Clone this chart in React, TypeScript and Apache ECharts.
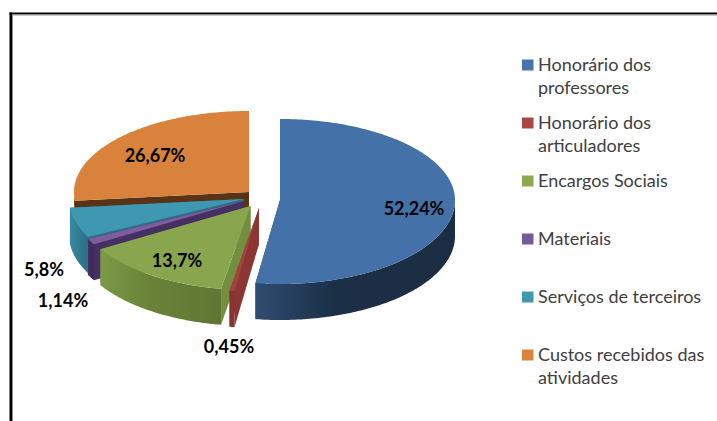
import React, { useEffect, useRef } from "react";
import * as echarts from "echarts";

const categories = [
  "Honorário dos\nprofessores",
  "Honorário dos\narticuladores",
  "Encargos Sociais",
  "Materiais",
  "Serviços de terceiros",
  "Custos recebidos das\natividades",
];
const values = [52.24, 0.45, 13.7, 1.14, 5.8, 26.67];
const valueLabels = ["52,24%", "0,45%", "13,7%", "1,14%", "5,8%", "26,67%"];

const topColors = ["#4472A8", "#A5423F", "#89A54E", "#7D5D9E", "#3F98B2", "#D9823B"];
const legendColors = ["#4674AB", "#AA4643", "#8DA84F", "#775A99", "#4198AF", "#DB843D"];
const edgeColors = ["#2A4568", "#8C3633", "#748E40", "#462F63", "#2C6F85", "#5A3216"];
const wallStops = [
  ["#2F4D70", "#1B2F47", "#1B2D42"],
  ["#7E2F2C", "#8A3431", "#8A3431"],
  ["#7C9A46", "#6A8238", "#5F7733"],
  ["#4A3166", "#402B59", "#402B59"],
  ["#3A8AA2", "#337E94", "#2B6E84"],
  ["#7A4A20", "#7A4A20", "#7A4A20"],
];

// Screen layout of each exploded slice: apex and label centre
const apexX = [280, 259, 250.5, 244, 244, 249];
const apexY = [200, 208, 206, 201, 199, 192];
const labelX = [414, 229, 177, 63, 44, 155];
const labelY = [208, 346, 260, 300, 269, 155];

const RX = 175;
const RY_BACK = 81;
const RY_FRONT = 84;
const DEPTH = 36;
const LABEL_FONT = "bold 18px Lato";

const total = values.reduce((a, b) => a + b, 0);
const startAngles = values.map((_, i) => (values.slice(0, i).reduce((a, b) => a + b, 0) / total) * 360);

function rim(i: number, deg: number): [number, number] {
  const r = (deg * Math.PI) / 180;
  const c = Math.cos(r);
  return [apexX[i] + RX * Math.sin(r), apexY[i] - (c > 0 ? RY_BACK : RY_FRONT) * c];
}
function arc(i: number, a: number, b: number): [number, number][] {
  const pts: [number, number][] = [];
  const n = Math.max(2, Math.ceil(Math.abs(b - a)));
  for (let k = 0; k <= n; k++) pts.push(rim(i, a + ((b - a) * k) / n));
  return pts;
}
const down = (p: [number, number]): [number, number] => [p[0], p[1] + DEPTH];

function renderSlice(i: number) {
  return (_params: any, api: any) => {
    const sweep = (api.value(0) / total) * 360;
    const a0 = startAngles[i];
    const a1 = a0 + sweep;
    const apex: [number, number] = [apexX[i], apexY[i]];
    const children: any[] = [];
    const poly = (points: [number, number][], fill: any) =>
      children.push({ type: "polygon", shape: { points }, style: { fill, stroke: null } });

    [a0, a1].forEach((a) => {
      const p = rim(i, a);
      poly([apex, p, down(p), down(apex)], edgeColors[i]);
    });
    const f0 = Math.max(a0, 90);
    const f1 = Math.min(a1, 270);
    if (f1 > f0) {
      const top = arc(i, f0, f1);
      const stops = wallStops[i];
      poly(
        [...top, ...top.slice().reverse().map(down)],
        new echarts.graphic.LinearGradient(0, 0, 1, 0, [
          { offset: 0, color: stops[0] },
          { offset: 0.4, color: stops[1] },
          { offset: 1, color: stops[2] },
        ])
      );
    }
    poly([apex, ...arc(i, a0, a1)], topColors[i]);
    children.push({
      type: "text",
      z2: 50,
      style: {
        text: valueLabels[i],
        x: labelX[i],
        y: labelY[i],
        fill: "#000000",
        font: LABEL_FONT,
        align: "center",
        verticalAlign: "middle",
      },
    });
    return { type: "group", children };
  };
}

const legendGraphics = categories.flatMap((name, i) => [
  {
    type: "rect",
    shape: { x: 522, y: 59.5 + 58 * i, width: 11.5, height: 11 },
    style: { fill: legendColors[i] },
  },
  {
    type: "text",
    style: {
      text: name,
      x: 538,
      y: 52 + 58 * i,
      fill: "#404040",
      font: "18px Lato",
      lineHeight: 23,
      verticalAlign: "top",
    },
  },
]);

const frameGraphics = [
  { type: "rect", shape: { x: 9.5, y: 12.5, width: 707.5, height: 2 }, style: { fill: "#000" } },
  { type: "rect", shape: { x: 12, y: 14.5, width: 705, height: 1 }, style: { fill: "#999" } },
  { type: "rect", shape: { x: 9.5, y: 12.5, width: 2.5, height: 408.5 }, style: { fill: "#000" } },
  { type: "rect", shape: { x: 12, y: 14.5, width: 1, height: 406.5 }, style: { fill: "#888" } },
];

export default function App() {
  const ref = useRef<HTMLDivElement>(null);
  useEffect(() => {
    const chart = echarts.init(ref.current!, undefined, { renderer: "svg" });
    chart.setOption({
      animation: false,
      backgroundColor: "#ffffff",
      graphic: { elements: [...frameGraphics, ...legendGraphics] },
      series: [5, 4, 3, 2, 1, 0].map((i) => ({
        type: "custom",
        name: categories[i].replace("\n", " "),
        coordinateSystem: "none",
        silent: true,
        data: [[values[i]]],
        renderItem: renderSlice(i),
      })),
    });
    return () => chart.dispose();
  }, []);
  return <div ref={ref} style={{ position: "fixed", left: 0, top: 0, width: 717, height: 421 }} />;
}
